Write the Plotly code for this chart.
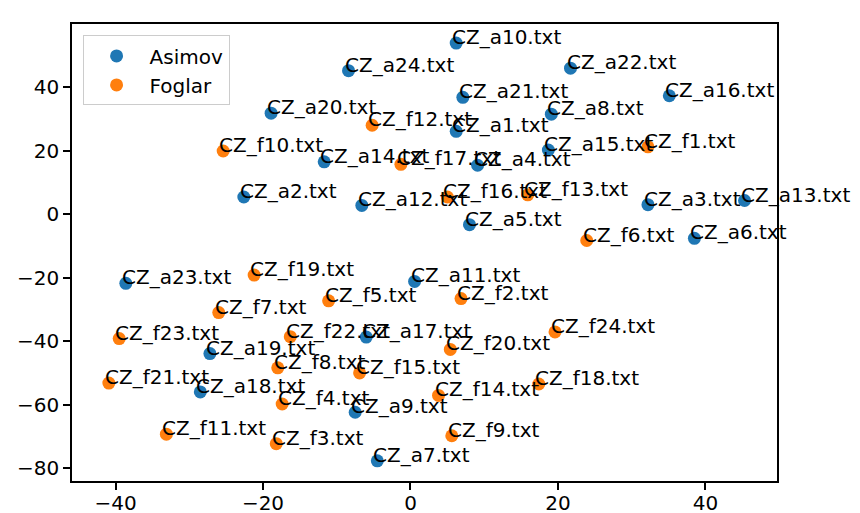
import plotly.graph_objects as go

asimov_names = [f"CZ_a{i}.txt" for i in range(1, 25)]
asimov_x = [6.2, -22.6, 32.2, 9.1, 8.0, 38.5, -4.5, 19.1, -7.5, 6.2, 0.56, -6.6,
            45.3, -11.7, 18.7, 35.1, -6.0, -28.5, -27.2, -18.9, 7.1, 21.7, -38.6, -8.4]
asimov_y = [26.1, 5.4, 3.0, 15.4, -3.3, -7.6, -77.7, 31.5, -62.4, 53.9, -21.2, 2.75,
            4.3, 16.5, 20.2, 37.3, -38.7, -56.0, -43.9, 31.8, 36.8, 46.0, -21.8, 45.2]

foglar_names = [f"CZ_f{i}.txt" for i in range(1, 25)]
foglar_x = [32.2, 6.85, -18.2, -17.4, -11.1, 23.9, -26.0, -18.0, 5.6, -25.4, -33.1, -5.2,
            15.9, 3.8, -6.9, 5.0, -1.3, 17.4, -21.2, 5.4, -40.9, -16.3, -39.5, 19.6]
foglar_y = [21.2, -26.6, -72.3, -59.8, -27.3, -8.3, -31.0, -48.4, -69.8, 19.9, -69.3, 28.0,
            6.1, -57.1, -50.0, 5.4, 15.7, -53.5, -19.2, -42.6, -53.2, -38.6, -39.2, -37.1]

x_ticks = [-40, -20, 0, 20, 40]
y_ticks = [-80, -60, -40, -20, 0, 20, 40, 60]

FONT = "DejaVu Sans"

fig = go.Figure()
fig.add_trace(go.Scatter(x=asimov_x, y=asimov_y, mode="markers", name="Asimov",
                         marker=dict(color="#1f77b4", size=13, line=dict(width=0))))
fig.add_trace(go.Scatter(x=foglar_x, y=foglar_y, mode="markers", name="Foglar",
                         marker=dict(color="#ff7f0e", size=13, line=dict(width=0))))

annotations = []
for names, xs, ys in ((asimov_names, asimov_x, asimov_y), (foglar_names, foglar_x, foglar_y)):
    for n, x, y in zip(names, xs, ys):
        annotations.append(dict(x=x, y=y, xref="x", yref="y", text=n, showarrow=False,
                                xanchor="left", yanchor="bottom", xshift=-6, yshift=-8,
                                font=dict(family=FONT, size=20, color="black")))

axis_common = dict(showgrid=False, zeroline=False, showline=True, linecolor="black",
                   linewidth=1.6, mirror=True, ticks="outside", ticklen=7, tickwidth=1.6,
                   tickcolor="black", automargin=False,
                   tickfont=dict(family=FONT, size=20, color="black"))

fig.update_layout(
    width=860, height=513,
    margin=dict(l=72, r=83, t=24, b=32),
    plot_bgcolor="white", paper_bgcolor="white",
    annotations=annotations,
    xaxis=dict(range=[-45.9, 49.7], tickvals=x_ticks, ticklabelstandoff=-4, **axis_common),
    yaxis=dict(range=[-84.05, 59.9], tickvals=y_ticks, **axis_common),
    legend=dict(x=0.015, y=0.975, xanchor="left", yanchor="top",
                bgcolor="rgba(255,255,255,0.8)", bordercolor="#cccccc", borderwidth=1,
                font=dict(family=FONT, size=20, color="black"), itemwidth=56),
    font=dict(family=FONT),
)

fig.write_html("out.html")
